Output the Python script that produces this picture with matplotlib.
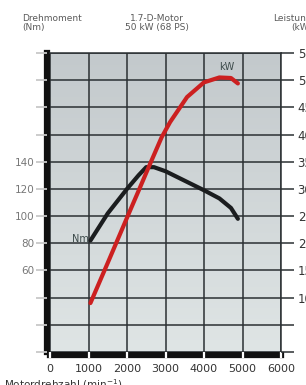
import numpy as np
import matplotlib
matplotlib.use('Agg')
import matplotlib.pyplot as plt
from matplotlib.colors import LinearSegmentedColormap

# engine curves
rpm_nm = [1050, 1500, 2000, 2300, 2500, 2700, 3000, 3500, 4000, 4400, 4700, 4880]
torque = [82, 102, 120, 130, 136, 136, 133, 126, 119, 113, 106, 98]

rpm_kw = [1050, 1500, 2000, 2340, 2550, 2900, 3120, 3560, 4000, 4400, 4700, 4880]
power = [9, 16.4, 24.7, 30.3, 33.8, 39.5, 42.3, 46.9, 49.6, 50.5, 50.4, 49.4]

x_ticks = [0, 1000, 2000, 3000, 4000, 5000, 6000]
nm_ticks = list(range(0, 221, 20))
nm_labels = ["" if v < 60 or v > 140 else str(v) for v in nm_ticks]
kw_ticks = list(range(0, 56, 5))
kw_labels = ["" if v < 10 else str(v) for v in kw_ticks]

grid_col = "#2b3033"
text_col = "#5a5a5a"

fig = plt.figure(figsize=(3.06, 3.85), dpi=100)
ax = fig.add_axes([50 / 306, 33 / 385, 231 / 306, 299 / 385])

# gradient background of the plot area, darker at the top
bg = LinearSegmentedColormap.from_list("bg", ["#c3c9cc", "#dfe5e5"])
grad = np.linspace(0, 1, 100).reshape(-1, 1)
ax.imshow(grad, cmap=bg, aspect="auto", extent=[0, 6000, 0, 220],
          origin="upper", zorder=0)

ax.set_xlim(0, 6000)
ax.set_ylim(0, 220)
ax.set_xticks(x_ticks)
ax.set_yticks(nm_ticks)
ax.set_yticklabels(nm_labels)
ax.grid(True, color=grid_col, linewidth=1.1)
ax.set_axisbelow(False)

ax.spines["left"].set_linewidth(4.5)
ax.spines["left"].set_color("#111111")
ax.spines["left"].set_position(("outward", 2.5))
ax.spines["bottom"].set_linewidth(4.5)
ax.spines["bottom"].set_color("#111111")
ax.spines["bottom"].set_position(("outward", 2.5))
ax.spines["top"].set_color(grid_col)
ax.spines["top"].set_linewidth(1.1)
ax.spines["right"].set_color(grid_col)
ax.spines["right"].set_linewidth(1.1)

ax.tick_params(axis="y", direction="out", length=8, width=1.3, color="#c8c8c8",
               labelsize=7.5, labelcolor="#777777", pad=0.5)
ax.tick_params(axis="x", direction="inout", length=5, width=1.6, color="white",
               labelsize=8, labelcolor="#333333", pad=4)

ax.plot(rpm_nm, torque, color="#1b1d1f", linewidth=3, solid_capstyle="round",
        solid_joinstyle="round", zorder=4)
ax.text(1000, 83, "Nm", fontsize=7, color="#3c4a4a", ha="right", va="center", zorder=5)

ax2 = ax.twinx()
ax2.set_ylim(0, 55)
ax2.set_yticks(kw_ticks)
ax2.set_yticklabels(kw_labels)
ax2.tick_params(axis="y", direction="out", length=9, width=1.1, color=grid_col,
                labelsize=8.5, labelcolor="#333333", pad=3)
for s in ["left", "bottom", "top", "right"]:
    ax2.spines[s].set_visible(False)
ax2.plot(rpm_kw, power, color="#cc2020", linewidth=3, solid_capstyle="round",
         solid_joinstyle="round", zorder=4)
ax2.text(4600, 52.5, "kW", fontsize=7, color="#3c4a4a", ha="center", va="center")

fig.text(22 / 306, 1 - 23 / 385, "Drehmoment\n(Nm)", fontsize=6.5, color=text_col,
         ha="left", va="center", linespacing=1.1)
fig.text(157 / 306, 1 - 23 / 385, "1.7-D-Motor\n50 kW (68 PS)", fontsize=6.5,
         color=text_col, ha="center", va="center", linespacing=1.1)
fig.text(312 / 306, 1 - 23 / 385, "Leistung\n(kW)", fontsize=6.5, color=text_col,
         ha="right", va="center", multialignment="right", linespacing=1.1)
fig.text(4 / 306, 1 - 377 / 385, "Motordrehzahl (min$^{-1}$)", fontsize=7.5,
         color="#333333", ha="left", va="top")

fig.savefig("out.png", dpi=100)
